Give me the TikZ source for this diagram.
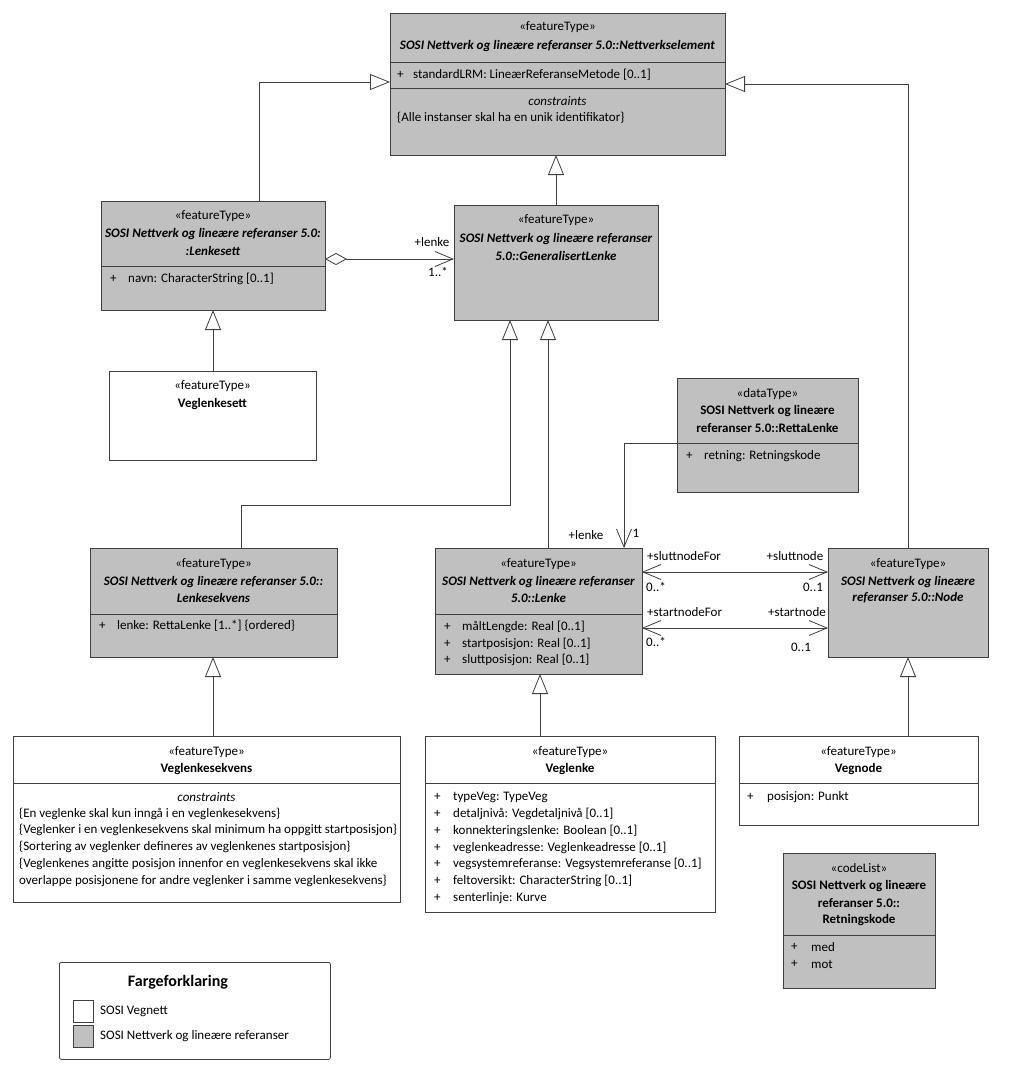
\documentclass[tikz,border=0pt]{standalone}
\usepackage{fontspec}
\setmainfont{Carlito}
\usetikzlibrary{arrows.meta}
\definecolor{boxgray}{RGB}{192,192,192}
\definecolor{linegray}{RGB}{64,64,64}
\tikzset{
  cls/.style={draw=linegray, line width=0.9pt, anchor=north west, inner sep=0pt, outer sep=0pt},
  grayc/.style={cls, fill=boxgray},
  whitec/.style={cls, fill=white},
  txt/.style={inner sep=0pt, font=\fontsize{13}{15}\selectfont},
  lt/.style={txt, anchor=west},
  st/.style={txt},
  bi/.style={txt, font=\fontsize{13}{15}\selectfont\bfseries\itshape},
  bt/.style={txt, font=\fontsize{13}{15}\selectfont\bfseries},
  it/.style={txt, font=\fontsize{13}{15}\selectfont\itshape},
  div/.style={draw=linegray, line width=0.9pt},
  conn/.style={draw=linegray, line width=0.8pt},
  gen/.style={conn, -{Triangle[open, length=20pt, width=16pt, fill=white]}},
  assoc/.style={conn, -{Straight Barb[length=18pt, width=15pt]}},
  lbl/.style={txt}
}
\begin{document}
\begin{tikzpicture}[x=1pt, y=-1pt]
\useasboundingbox[fill=white] (0,0) rectangle (1024,1073);

% Nettverkselement
\node[grayc, minimum width=335pt, minimum height=142pt] (ne) at (390,13) {};
\node[st] (ne-s) at (557.5,27) {«featureType»};
\node[bi] (ne-n) at (557.5,46) {SOSI Nettverk og lineære referanser 5.0::Nettverkselement};
\draw[div] (390,62) -- (725,62);
\node[lt] (ne-p) at (397,75) {+};
\node[lt] (ne-a) at (413,75) {standardLRM: LineærReferanseMetode [0..1]};
\draw[div] (390,88) -- (725,88);
\node[it] (ne-c) at (557.5,101) {constraints};
\node[lt] (ne-k) at (397,118) {\{Alle instanser skal ha en unik identifikator\}};

% Lenkesett
\node[grayc, minimum width=224pt, minimum height=109pt] (ls) at (101,201) {};
\node[st] (ls-s) at (213,216) {«featureType»};
\node[bi] (ls-n1) at (213,234) {SOSI Nettverk og lineære referanser 5.0:};
\node[bi] (ls-n2) at (213,251) {:Lenkesett};
\draw[div] (101,266) -- (325,266);
\node[lt] (ls-p) at (110,279) {+};
\node[lt] (ls-a) at (128,279) {navn: CharacterString [0..1]};

% GeneralisertLenke
\node[grayc, minimum width=204pt, minimum height=115pt] (gl) at (454,205) {};
\node[st] (gl-s) at (556,220) {«featureType»};
\node[bi] (gl-n1) at (556,239) {SOSI Nettverk og lineære referanser};
\node[bi] (gl-n2) at (556,256) {5.0::GeneralisertLenke};

% Veglenkesett
\node[whitec, minimum width=207pt, minimum height=89pt] (vs) at (109,371) {};
\node[st] (vs-s) at (212.5,386) {«featureType»};
\node[bt] (vs-n) at (212.5,404) {Veglenkesett};

% RettaLenke
\node[grayc, minimum width=181pt, minimum height=114pt] (rl) at (677,378) {};
\node[st] (rl-s) at (767.5,394) {«dataType»};
\node[bt] (rl-n1) at (767.5,411) {SOSI Nettverk og lineære};
\node[bt] (rl-n2) at (767.5,428) {referanser 5.0::RettaLenke};
\draw[div] (677,443) -- (858,443);
\node[lt] (rl-p) at (686,456) {+};
\node[lt] (rl-a) at (704,456) {retning: Retningskode};

% Lenkesekvens
\node[grayc, minimum width=247pt, minimum height=109pt] (lk) at (90,548) {};
\node[st] (lk-s) at (213.5,564) {«featureType»};
\node[bi] (lk-n1) at (213.5,582) {SOSI Nettverk og lineære referanser 5.0::};
\node[bi] (lk-n2) at (213.5,598) {Lenkesekvens};
\draw[div] (90,614) -- (337,614);
\node[lt] (lk-p) at (99,626) {+};
\node[lt] (lk-a) at (117,626) {lenke: RettaLenke [1..*] \{ordered\}};

% Lenke
\node[grayc, minimum width=207pt, minimum height=126pt] (le) at (435,548) {};
\node[st] (le-s) at (538.5,564) {«featureType»};
\node[bi] (le-n1) at (538.5,582) {SOSI Nettverk og lineære referanser};
\node[bi] (le-n2) at (538.5,598) {5.0::Lenke};
\draw[div] (435,614) -- (642,614);
\node[lt] (le-p1) at (444,627) {+};
\node[lt] (le-a1) at (462,627) {måltLengde: Real [0..1]};
\node[lt] (le-p2) at (444,644) {+};
\node[lt] (le-a2) at (462,644) {startposisjon: Real [0..1]};
\node[lt] (le-p3) at (444,660) {+};
\node[lt] (le-a3) at (462,660) {sluttposisjon: Real [0..1]};

% Node
\node[grayc, minimum width=160pt, minimum height=109pt] (nd) at (828,548) {};
\node[st] (nd-s) at (908,564) {«featureType»};
\node[bi] (nd-n1) at (908,582) {SOSI Nettverk og lineære};
\node[bi] (nd-n2) at (908,598) {referanser 5.0::Node};

% Veglenkesekvens
\node[whitec, minimum width=387pt, minimum height=166pt] (vk) at (13,736) {};
\node[st] (vk-s) at (206.5,752) {«featureType»};
\node[bt] (vk-n) at (206.5,769) {Veglenkesekvens};
\draw[div] (13,783) -- (400,783);
\node[it] (vk-c) at (206.5,797) {constraints};
\node[lt] (vk-k1) at (19,814) {\{En veglenke skal kun inngå i en veglenkesekvens\}};
\node[lt] (vk-k2) at (19,830) {\{Veglenker i en veglenkesekvens skal minimum ha oppgitt startposisjon\}};
\node[lt] (vk-k3) at (19,847) {\{Sortering av veglenker defineres av veglenkenes startposisjon\}};
\node[lt] (vk-k4) at (19,864) {\{Veglenkenes angitte posisjon innenfor en veglenkesekvens skal ikke};
\node[lt] (vk-k5) at (19,881) {overlappe posisjonene for andre veglenker i samme veglenkesekvens\}};

% Veglenke
\node[whitec, minimum width=290pt, minimum height=176pt] (vl) at (425,736) {};
\node[st] (vl-s) at (570,752) {«featureType»};
\node[bt] (vl-n) at (570,769) {Veglenke};
\draw[div] (425,783) -- (715,783);
\foreach \i/\yy/\t in {1/797/{typeVeg: TypeVeg},
                     2/814/{detaljnivå: Vegdetaljnivå [0..1]},
                     3/831/{konnekteringslenke: Boolean [0..1]},
                     4/848/{veglenkeadresse: Veglenkeadresse [0..1]},
                     5/864/{vegsystemreferanse: Vegsystemreferanse [0..1]},
                     6/881/{feltoversikt: CharacterString [0..1]},
                     7/898/{senterlinje: Kurve}} {
  \node[lt] (vl-p\i) at (434,\yy) {+};
  \node[lt] (vl-a\i) at (453,\yy) {\t};
}

% Vegnode
\node[whitec, minimum width=239pt, minimum height=89pt] (vn) at (739,736) {};
\node[st] (vn-s) at (858.5,752) {«featureType»};
\node[bt] (vn-n) at (858.5,769) {Vegnode};
\draw[div] (739,783) -- (978,783);
\node[lt] (vn-p) at (747,797) {+};
\node[lt] (vn-a) at (767,797) {posisjon: Punkt};

% Retningskode
\node[grayc, minimum width=152pt, minimum height=135pt] (rk) at (783,853) {};
\node[st] (rk-s) at (859,868) {«codeList»};
\node[bt] (rk-n1) at (859,886) {SOSI Nettverk og lineære};
\node[bt] (rk-n2) at (859,903) {referanser 5.0::};
\node[bt] (rk-n3) at (859,920) {Retningskode};
\draw[div] (783,935) -- (935,935);
\node[lt] (rk-p1) at (791,947) {+};
\node[lt] (rk-a1) at (811,947) {med};
\node[lt] (rk-p2) at (791,964) {+};
\node[lt] (rk-a2) at (811,964) {mot};

% Legend
\node[draw=linegray, line width=0.8pt, rounded corners=2pt, anchor=north west, minimum width=271pt, minimum height=97pt, inner sep=0pt] (lg) at (59,962) {};
\node[txt, font=\fontsize{16}{18}\selectfont\bfseries] (lg-t) at (178,982) {Fargeforklaring};
\node[whitec, line width=0.8pt, minimum width=20pt, minimum height=22pt] (lg-w) at (73,1000) {};
\node[grayc, line width=0.8pt, minimum width=20pt, minimum height=22pt] (lg-g) at (73,1025) {};
\node[lt] (lg-wt) at (100,1011) {SOSI Vegnett};
\node[lt] (lg-gt) at (100,1036) {SOSI Nettverk og lineære referanser};

% Generalizations
\draw[gen] (259,0 |- ls.north) -- (259,82) -- (ne.west |- 0,82);
\draw[gen] (908,0 |- nd.north) -- (908,84) -- (ne.east |- 0,84);
\draw[gen] (gl.north) -- (ne.south -| gl.north);
\draw[gen] (213,0 |- vs.north) -- (213,0 |- ls.south);
\draw[gen] (241,0 |- lk.north) -- (241,505) -- (510,505) -- (510,0 |- gl.south);
\draw[gen] (548,0 |- le.north) -- (548,0 |- gl.south);
\draw[gen] (213,0 |- vk.north) -- (213,0 |- lk.south);
\draw[gen] (540,0 |- vl.north) -- (540,0 |- le.south);
\draw[gen] (908,0 |- vn.north) -- (908,0 |- nd.south);

% Aggregation Lenkesett -> GeneralisertLenke
\draw[conn, {Diamond[open, length=22pt, width=12pt, fill=white]}-{Straight Barb[length=18pt, width=15pt]}]
  (ls.east |- 0,259) -- (gl.west |- 0,259);
\node[lbl] (ag-r) at (432,242) {+lenke};
\node[lbl] (ag-m) at (438,272) {1..*};

% RettaLenke -> Lenke
\draw[assoc] (rl.west |- 0,443) -- (624,443) -- (624,0 |- le.north);
\node[lbl] (rl-r) at (586,535) {+lenke};
\node[lbl] (rl-m) at (636,533) {1};

% Lenke <-> Node
\draw[conn, {Straight Barb[length=18pt, width=15pt]}-{Straight Barb[length=18pt, width=15pt]}]
  (le.east |- 0,572) -- (nd.west |- 0,572);
\node[lbl, anchor=west] (sn-f) at (647,556) {+sluttnodeFor};
\node[lbl] (sn-fm) at (656,587) {0..*};
\node[lbl] (sn-n) at (795,556) {+sluttnode};
\node[lbl] (sn-nm) at (813,587) {0..1};
\draw[conn, {Straight Barb[length=18pt, width=15pt]}-{Straight Barb[length=18pt, width=15pt]}]
  (le.east |- 0,628) -- (nd.west |- 0,628);
\node[lbl, anchor=west] (st-f) at (647,612) {+startnodeFor};
\node[lbl] (st-fm) at (656,642) {0..*};
\node[lbl] (st-n) at (797,612) {+startnode};
\node[lbl] (st-nm) at (801,647) {0..1};
\end{tikzpicture}
\end{document}
